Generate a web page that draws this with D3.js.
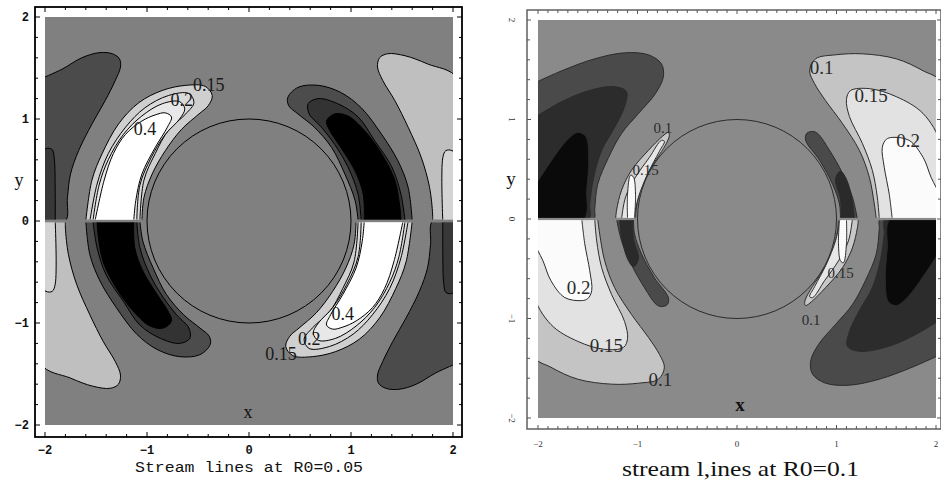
<!DOCTYPE html>
<html>
<head>
<meta charset="utf-8">
<script src="https://cdn.jsdelivr.net/npm/d3@7"></script>
<style>
  body { margin: 0; background: #fff; }
  svg { display: block; }
</style>
</head>
<body>
<script>
// Values, in data units (x, y).
// Only the upper half (y > 0) is traced; the lower half of each plot is the
// same picture turned half a circle round the origin.

const axisTicks = [-2, -1, 0, 1, 2];

// ---- left plot, R0 = 0.05 ----
const leftTitle = 'Stream lines at R0=0.05';
const L_darkFar = [[-2.05,1.39],[-1.83,1.49],[-1.64,1.60],[-1.47,1.65],[-1.34,1.64],[-1.27,1.59],[-1.26,1.51],[-1.31,1.38],[-1.41,1.18],[-1.54,0.95],[-1.67,0.69],[-1.75,0.46],[-1.78,0.23],[-1.80,0.0],[-2.05,0.0]];
const L_darkStrip = [[-2.05,0.0],[-2.05,0.62],[-1.99,0.71],[-1.93,0.70],[-1.91,0.62],[-1.90,0.30],[-1.90,0.0]];
const L_light15 = [[-1.05,0.0],[-1.03,0.23],[-0.95,0.46],[-0.82,0.69],[-0.66,0.90],[-0.49,1.05],[-0.40,1.13],[-0.36,1.23],[-0.43,1.32],[-0.62,1.33],[-0.85,1.28],[-1.08,1.16],[-1.28,0.95],[-1.44,0.66],[-1.54,0.40],[-1.60,0.0]];
const L_light20 = [[-1.07,0.0],[-1.03,0.40],[-0.92,0.66],[-0.79,0.89],[-0.62,1.05],[-0.54,1.16],[-0.59,1.25],[-0.79,1.23],[-1.02,1.11],[-1.21,0.92],[-1.38,0.66],[-1.49,0.36],[-1.56,0.0]];
const L_light30 = [[-1.10,0.0],[-1.07,0.35],[-0.96,0.62],[-0.82,0.85],[-0.68,1.00],[-0.63,1.10],[-0.68,1.17],[-0.85,1.15],[-1.05,1.03],[-1.23,0.85],[-1.38,0.60],[-1.47,0.35],[-1.53,0.0]];
const L_white40 = [[-1.13,0.0],[-1.11,0.20],[-1.05,0.46],[-0.92,0.72],[-0.80,0.92],[-0.76,1.02],[-0.82,1.06],[-0.92,1.04],[-1.05,0.98],[-1.21,0.85],[-1.33,0.66],[-1.42,0.40],[-1.51,0.0]];
const L_lightFar = [[1.80,0.0],[1.80,0.07],[1.77,0.33],[1.69,0.62],[1.56,0.92],[1.43,1.18],[1.31,1.38],[1.26,1.51],[1.28,1.60],[1.36,1.64],[1.53,1.62],[1.75,1.54],[2.05,1.39],[2.05,0.0]];
const L_lightStrip = [[1.90,0.0],[1.90,0.62],[1.93,0.69],[1.99,0.69],[2.05,0.62],[2.05,0.0]];
const L_dark1 = [[1.07,0.0],[1.04,0.20],[0.94,0.46],[0.81,0.72],[0.64,0.92],[0.48,1.05],[0.39,1.13],[0.38,1.21],[0.48,1.31],[0.68,1.33],[0.90,1.26],[1.10,1.11],[1.30,0.85],[1.46,0.59],[1.56,0.33],[1.60,0.0]];
const L_dark2 = [[1.10,0.0],[1.07,0.26],[0.97,0.53],[0.84,0.75],[0.71,0.92],[0.59,1.05],[0.58,1.15],[0.68,1.20],[0.87,1.15],[1.07,1.02],[1.23,0.79],[1.40,0.53],[1.49,0.26],[1.53,0.0]];
const L_black = [[1.13,0.0],[1.12,0.26],[1.04,0.49],[0.90,0.72],[0.79,0.89],[0.76,0.98],[0.84,1.05],[0.97,1.03],[1.13,0.89],[1.30,0.66],[1.43,0.40],[1.48,0.13],[1.49,0.0]];
const leftLabelText = ['0.15', '0.2', '0.4', '0.4', '0.2', '0.15'];
const leftLabelX = [-0.55, -0.77, -1.13, 0.81, 0.48, 0.16];
const leftLabelY = [1.27, 1.13, 0.84, -0.97, -1.22, -1.36];

// ---- right plot, R0 = 0.1 ----
const rightTitle = 'stream l,ines at R0=0.1';
const R_darkFar = [[-2.05,1.36],[-1.76,1.49],[-1.43,1.61],[-1.13,1.67],[-0.89,1.65],[-0.76,1.56],[-0.74,1.43],[-0.82,1.26],[-0.99,1.06],[-1.16,0.86],[-1.29,0.62],[-1.40,0.35],[-1.43,0.10],[-1.44,0.0],[-2.05,0.0]];
const R_darker = [[-2.05,1.01],[-1.76,1.18],[-1.49,1.29],[-1.23,1.33],[-1.11,1.28],[-1.13,1.13],[-1.23,0.92],[-1.36,0.69],[-1.44,0.42],[-1.48,0.15],[-1.49,0.0],[-2.05,0.0]];
const R_black = [[-2.05,0.30],[-1.91,0.52],[-1.71,0.79],[-1.60,0.87],[-1.52,0.83],[-1.49,0.60],[-1.51,0.30],[-1.54,0.0],[-2.05,0.0]];
const R_light10 = [[-1.02,0.0],[-1.01,0.12],[-0.96,0.32],[-0.86,0.52],[-0.71,0.76],[-0.68,0.84],[-0.69,0.87],[-0.75,0.83],[-0.89,0.69],[-1.06,0.49],[-1.16,0.29],[-1.21,0.09],[-1.22,0.0]];
const R_light15 = [[-1.04,0.0],[-0.99,0.22],[-0.90,0.45],[-0.78,0.68],[-0.73,0.78],[-0.76,0.79],[-0.88,0.62],[-1.02,0.42],[-1.12,0.22],[-1.16,0.0]];
const R_white20 = [[-1.03,0.0],[-1.02,0.25],[-1.04,0.42],[-1.07,0.44],[-1.10,0.25],[-1.10,0.0]];
const R_dark10 = [[1.04,0.0],[1.03,0.15],[0.96,0.35],[0.83,0.59],[0.69,0.79],[0.70,0.86],[0.76,0.88],[0.81,0.86],[0.93,0.69],[1.06,0.46],[1.16,0.22],[1.21,0.0]];
const R_dark15 = [[1.05,0.0],[1.04,0.20],[0.99,0.40],[1.04,0.48],[1.10,0.40],[1.16,0.18],[1.18,0.0]];
const R_lightFar10 = [[1.40,0.0],[1.38,0.15],[1.33,0.42],[1.23,0.69],[1.06,0.96],[0.89,1.19],[0.78,1.36],[0.73,1.49],[0.79,1.61],[0.99,1.65],[1.26,1.66],[1.60,1.61],[1.87,1.49],[2.05,1.37],[2.05,0.0]];
const R_lightFar15 = [[1.43,0.0],[1.41,0.22],[1.36,0.49],[1.26,0.76],[1.13,1.03],[1.10,1.20],[1.14,1.29],[1.33,1.31],[1.60,1.23],[1.87,1.06],[2.05,0.74],[2.05,0.0]];
const R_lightFar20 = [[1.56,0.0],[1.53,0.25],[1.48,0.52],[1.46,0.72],[1.50,0.80],[1.56,0.82],[1.73,0.79],[1.87,0.62],[1.95,0.42],[2.05,0.20],[2.05,0.0]];
const rightLabelText = ['0.1', '0.15', '0.1', '0.15', '0.2', '0.2', '0.15', '0.1', '0.15', '0.1'];
const rightLabelX = [-0.84, -1.05, 0.73, 1.18, 1.60, -1.71, -1.48, -0.89, 0.91, 0.65];
const rightLabelY = [0.86, 0.44, 1.46, 1.18, 0.72, -0.75, -1.34, -1.68, -0.59, -1.07];


const svg = d3.select('body').append('svg')
    .attr('width', 941)
    .attr('height', 481);
const defs = svg.append('defs');

function minus(t) {
    return String(t).replace('-', '\u2212');
}

/* Draws one contour panel: shaded regions, circle, frame with ticks, texts.
 */
function drawPanel(p) {
    const x = d3.scaleLinear().domain([-2, 2]).range([p.x0, p.x1]);
    const y = d3.scaleLinear().domain([-2, 2]).range([p.y1, p.y0]);
    const g = svg.append('g');

    // plot background
    g.append('rect')
        .attr('x', x(-2)).attr('y', y(2))
        .attr('width', x(2) - x(-2)).attr('height', y(-2) - y(2))
        .attr('fill', p.bg);

    // upper half clip, stops a little above y = 0
    const clipId = p.id + '_clip';
    defs.append('clipPath').attr('id', clipId)
        .append('rect')
        .attr('x', x(-2)).attr('y', y(2))
        .attr('width', x(2) - x(-2)).attr('height', y(p.gap) - y(2));

    const line = d3.line()
        .x(d => x(d[0]))
        .y(d => y(d[1]))
        .curve(d3.curveCatmullRom.alpha(0.5));

    [0, 180].forEach(angle => {
        const half = g.append('g')
            .attr('transform', 'rotate(' + angle + ',' + x(0) + ',' + y(0) + ')')
            .append('g')
            .attr('clip-path', 'url(#' + clipId + ')');
        half.selectAll('path')
            .data(p.layers)
            .join('path')
            .attr('d', d => line(d[0]) + 'Z')
            .attr('fill', d => d[1])
            .attr('stroke', p.lineColor)
            .attr('stroke-width', 1);
    });

    // the cylinder, r = 1
    g.append('circle')
        .attr('cx', x(0)).attr('cy', y(0))
        .attr('r', x(1) - x(0))
        .attr('fill', 'none')
        .attr('stroke', p.lineColor)
        .attr('stroke-width', 1);

    // contour level labels
    g.selectAll('text.lev')
        .data(p.labelText)
        .join('text')
        .attr('class', 'lev')
        .attr('x', (d, i) => x(p.labelX[i]))
        .attr('y', (d, i) => y(p.labelY[i]))
        .attr('font-family', 'Liberation Serif, Times New Roman, serif')
        .attr('font-size', (d, i) => p.labelSize(i))
        .attr('fill', p.labelColor)
        .text(d => d);

    // frame
    g.append('rect')
        .attr('x', p.fx0).attr('y', p.fy0)
        .attr('width', p.fx1 - p.fx0).attr('height', p.fy1 - p.fy0)
        .attr('fill', 'none')
        .attr('stroke', p.frameColor)
        .attr('stroke-width', p.frameWidth);

    // inward ticks on all four sides
    const isMajor = t => Math.abs(t - Math.round(t)) < 1e-6;
    const tickLen = t => isMajor(t) ? p.majorLen : p.minorLen;
    const tg = g.append('g').attr('stroke', p.frameColor).attr('stroke-width', 1);
    x.ticks(p.hTicks).forEach(t => {
        tg.append('line').attr('x1', x(t)).attr('x2', x(t)).attr('y1', p.fy0).attr('y2', p.fy0 + tickLen(t));
        tg.append('line').attr('x1', x(t)).attr('x2', x(t)).attr('y1', p.fy1).attr('y2', p.fy1 - tickLen(t));
    });
    y.ticks(p.vTicks).forEach(t => {
        tg.append('line').attr('y1', y(t)).attr('y2', y(t)).attr('x1', p.fx0).attr('x2', p.fx0 + tickLen(t));
        tg.append('line').attr('y1', y(t)).attr('y2', y(t)).attr('x1', p.fx1).attr('x2', p.fx1 - tickLen(t));
    });

    // tick labels
    g.selectAll('text.xt')
        .data(axisTicks)
        .join('text')
        .attr('class', 'xt')
        .attr('x', d => x(d))
        .attr('y', p.xLabelY)
        .attr('text-anchor', 'middle')
        .attr('font-family', p.tickFont)
        .attr('font-weight', p.tickWeight)
        .attr('font-size', p.tickSize)
        .attr('fill', p.tickColor)
        .text(minus);

    g.selectAll('text.yt')
        .data(axisTicks)
        .join('text')
        .attr('class', 'yt')
        .attr('transform', d => 'translate(' + p.yLabelX + ',' + y(d) + ') rotate(' + p.yLabelRotate + ')')
        .attr('dy', '0.35em')
        .attr('text-anchor', p.yLabelAnchor)
        .attr('font-family', p.tickFont)
        .attr('font-weight', p.tickWeight)
        .attr('font-size', p.tickSize)
        .attr('fill', p.tickColor)
        .text(minus);

    // axis names and caption
    g.append('text')
        .attr('x', p.yName[0]).attr('y', p.yName[1])
        .attr('text-anchor', 'middle')
        .attr('font-family', 'Liberation Serif, Times New Roman, serif')
        .attr('font-size', p.nameSize)
        .attr('fill', '#111')
        .text('y');
    g.append('text')
        .attr('x', x(0) + p.xNameShift).attr('y', p.xName)
        .attr('text-anchor', 'middle')
        .attr('font-family', 'Liberation Serif, Times New Roman, serif')
        .attr('font-weight', p.xNameWeight)
        .attr('font-size', p.nameSize)
        .attr('fill', '#111')
        .text('x');
    g.append('text')
        .attr('x', p.title[0]).attr('y', p.title[1])
        .attr('font-family', p.titleFont)
        .attr('font-size', p.titleSize)
        .attr('textLength', p.titleWidth)
        .attr('lengthAdjust', 'spacingAndGlyphs')
        .attr('fill', '#111')
        .text(p.titleText);
}

drawPanel({
    id: 'left',
    x0: 45, x1: 453, y0: 17, y1: 425,
    fx0: 35, fx1: 462, fy0: 7, fy1: 437,
    gap: 0.015,
    bg: '#808080',
    lineColor: '#000',
    layers: [
        [L_darkFar, '#4b4b4b'],
        [L_darkStrip, '#383838'],
        [L_light15, '#cfcfcf'],
        [L_light20, '#dadada'],
        [L_light30, '#e8e8e8'],
        [L_white40, '#ffffff'],
        [L_lightFar, '#bfbfbf'],
        [L_lightStrip, '#d4d4d4'],
        [L_dark1, '#4c4c4c'],
        [L_dark2, '#333333'],
        [L_black, '#000000']
    ],
    labelText: leftLabelText, labelX: leftLabelX, labelY: leftLabelY,
    labelSize: () => 18,
    labelColor: '#1a1a1a',
    frameColor: '#000', frameWidth: 1.8,
    hTicks: 20, vTicks: 20, majorLen: 5, minorLen: 3,
    tickFont: 'Liberation Mono, Courier New, monospace',
    tickWeight: 'bold', tickSize: 12, tickColor: '#111',
    xLabelY: 454,
    yLabelX: 29, yLabelRotate: 0, yLabelAnchor: 'end',
    yName: [19, 186], xName: 418, xNameShift: -1, xNameWeight: 'normal', nameSize: 18,
    title: [135, 472], titleText: leftTitle, titleSize: 15.5, titleWidth: 228,
    titleFont: 'Liberation Mono, Courier New, monospace'
});

drawPanel({
    id: 'right',
    x0: 538, x1: 936, y0: 20, y1: 418,
    fx0: 527, fx1: 941, fy0: 10, fy1: 429,
    gap: 0.012,
    bg: '#8a8a8a',
    lineColor: '#2b2b2b',
    layers: [
        [R_darkFar, '#4a4a4a'],
        [R_darker, '#2c2c2c'],
        [R_black, '#0a0a0a'],
        [R_light10, '#c8c8c8'],
        [R_light15, '#e6e6e6'],
        [R_white20, '#fbfbfb'],
        [R_dark10, '#4a4a4a'],
        [R_dark15, '#2a2a2a'],
        [R_lightFar10, '#c4c4c4'],
        [R_lightFar15, '#e2e2e2'],
        [R_lightFar20, '#fbfbfb']
    ],
    labelText: rightLabelText, labelX: rightLabelX, labelY: rightLabelY,
    labelSize: i => (i < 2 || i > 7) ? 15 : 19,
    labelColor: '#2a2a2a',
    frameColor: '#555', frameWidth: 1.4,
    hTicks: 40, vTicks: 20, majorLen: 4, minorLen: 3,
    tickFont: 'Liberation Serif, Times New Roman, serif',
    tickWeight: 'normal', tickSize: 9, tickColor: '#333',
    xLabelY: 447,
    yLabelX: 512, yLabelRotate: 90, yLabelAnchor: 'middle',
    yName: [511, 185], xName: 411, xNameShift: 3, xNameWeight: 'bold', nameSize: 19,
    title: [622, 476], titleText: rightTitle, titleSize: 22, titleWidth: 237,
    titleFont: 'Liberation Serif, Times New Roman, serif'
});
</script>
</body>
</html>
